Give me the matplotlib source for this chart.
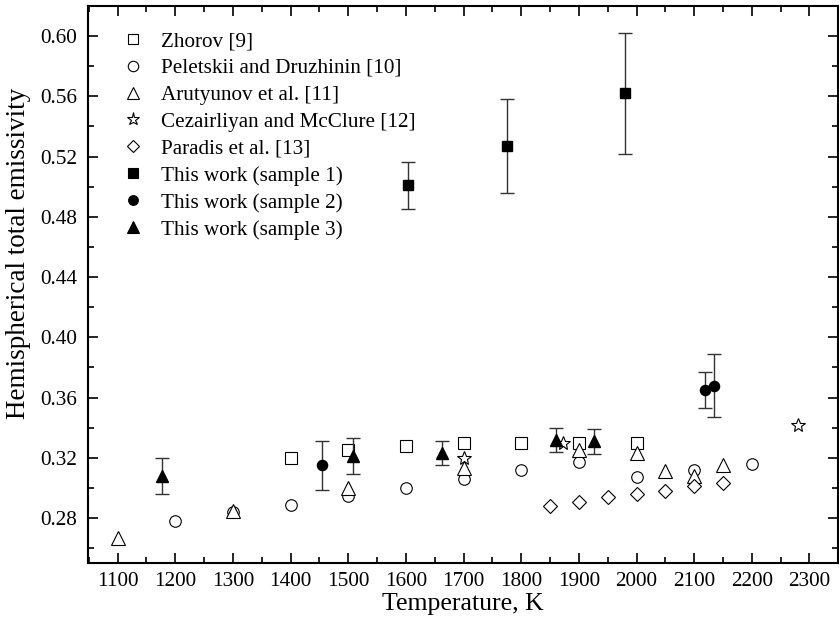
import numpy as np
import matplotlib.pyplot as plt
from matplotlib.lines import Line2D
from matplotlib.ticker import MultipleLocator

plt.rcParams['font.family'] = ['Liberation Serif', 'DejaVu Serif']

# Literature data
zhorov_T = [1400, 1500, 1600, 1700, 1800, 1900, 2000]
zhorov_e = [0.320, 0.3255, 0.328, 0.330, 0.330, 0.330, 0.330]

peletskii_T = [1200, 1300, 1400, 1500, 1600, 1700, 1800, 1900, 2000, 2100, 2200]
peletskii_e = [0.278, 0.284, 0.289, 0.295, 0.300, 0.306, 0.312, 0.317, 0.307, 0.312, 0.316]

arutyunov_T = [1100, 1300, 1500, 1700, 1900, 2000, 2050, 2100, 2150]
arutyunov_e = [0.267, 0.285, 0.300, 0.313, 0.325, 0.323, 0.311, 0.308, 0.315]

cezairliyan_T = [1700, 1872, 2280]
cezairliyan_e = [0.320, 0.330, 0.342]

paradis_T = [1850, 1900, 1950, 2000, 2050, 2100, 2150]
paradis_e = [0.288, 0.291, 0.294, 0.296, 0.298, 0.301, 0.303]

# This work
s1_T = [1603, 1776, 1980]
s1_e = [0.501, 0.527, 0.562]
s1_err = [0.0157, 0.031, 0.040]

s2_T = [1455, 2119, 2135]
s2_e = [0.315, 0.365, 0.368]
s2_err = [0.016, 0.012, 0.021]

s3_T = [1177, 1509, 1663, 1861, 1927]
s3_e = [0.308, 0.321, 0.323, 0.332, 0.331]
s3_err = [0.012, 0.012, 0.008, 0.008, 0.0085]

fig = plt.figure(figsize=(8.39, 6.23), dpi=100)
ax = fig.add_axes([0.1052, 0.0958, 0.8933, 0.8946])

open_kw = dict(linestyle='none', markerfacecolor='white', markeredgecolor='black', markeredgewidth=0.8)
ax.plot(zhorov_T, zhorov_e, marker='s', markersize=8, **open_kw)
ax.plot(peletskii_T, peletskii_e, marker='o', markersize=8.3, **open_kw)
ax.plot(arutyunov_T, arutyunov_e, marker='^', markersize=10, **open_kw)
ax.plot(cezairliyan_T, cezairliyan_e, marker='*', markersize=10.5, **open_kw)
ax.plot(paradis_T, paradis_e, marker='D', markersize=7.2, **open_kw)

err_kw = dict(linestyle='none', color='black', ecolor='#333333', elinewidth=1, capsize=5, capthick=1)
ax.errorbar(s1_T, s1_e, yerr=s1_err, marker='s', markersize=6.5, **err_kw)
ax.errorbar(s2_T, s2_e, yerr=s2_err, marker='o', markersize=7.3, **err_kw)
ax.errorbar(s3_T, s3_e, yerr=s3_err, marker='^', markersize=8.6, **err_kw)

ax.set_xlim(1049, 2349)
ax.set_ylim(0.25, 0.62)
ax.xaxis.set_major_locator(MultipleLocator(100))
ax.xaxis.set_minor_locator(MultipleLocator(50))
ax.yaxis.set_minor_locator(MultipleLocator(0.02))
yt = np.arange(0.28, 0.61, 0.04)
ax.set_yticks(yt)
ax.set_yticklabels([f'{v:.2f}' for v in yt])
ax.tick_params(which='both', direction='in', top=True, right=True, labelsize=15.3, width=1.2)
ax.tick_params(which='major', length=7)
ax.tick_params(which='minor', length=4)
ax.tick_params(axis='y', pad=8)
ax.tick_params(axis='x', pad=6)
for sp in ax.spines.values():
    sp.set_linewidth(1.5)

ax.set_xlabel('Temperature, K', fontsize=18.5, labelpad=2)
ax.set_ylabel('Hemispherical total emissivity', fontsize=19.5)
ax.yaxis.set_label_coords(-0.077, 0.557)

# legend with marker-only handles
lk = dict(linestyle='none', markeredgecolor='black', markeredgewidth=0.8)
handles = [
    Line2D([], [], marker='s', markersize=7, markerfacecolor='white', **lk),
    Line2D([], [], marker='o', markersize=7.5, markerfacecolor='white', **lk),
    Line2D([], [], marker='^', markersize=8, markerfacecolor='white', **lk),
    Line2D([], [], marker='*', markersize=9.5, markerfacecolor='white', **lk),
    Line2D([], [], marker='D', markersize=6.5, markerfacecolor='white', **lk),
    Line2D([], [], marker='s', markersize=6.5, markerfacecolor='black', **lk),
    Line2D([], [], marker='o', markersize=7, markerfacecolor='black', **lk),
    Line2D([], [], marker='^', markersize=8, markerfacecolor='black', **lk),
]
labels = ['Zhorov [9]', 'Peletskii and Druzhinin [10]', 'Arutyunov et al. [11]',
          'Cezairliyan and McClure [12]', 'Paradis et al. [13]',
          'This work (sample 1)', 'This work (sample 2)', 'This work (sample 3)']
ax.legend(handles, labels, loc='upper left', frameon=False, fontsize=15.2,
          bbox_to_anchor=(0.02, 0.985), handletextpad=0.75, labelspacing=0.34,
          handlelength=1.2, borderpad=0.3)

fig.savefig('out.png', dpi=100)
